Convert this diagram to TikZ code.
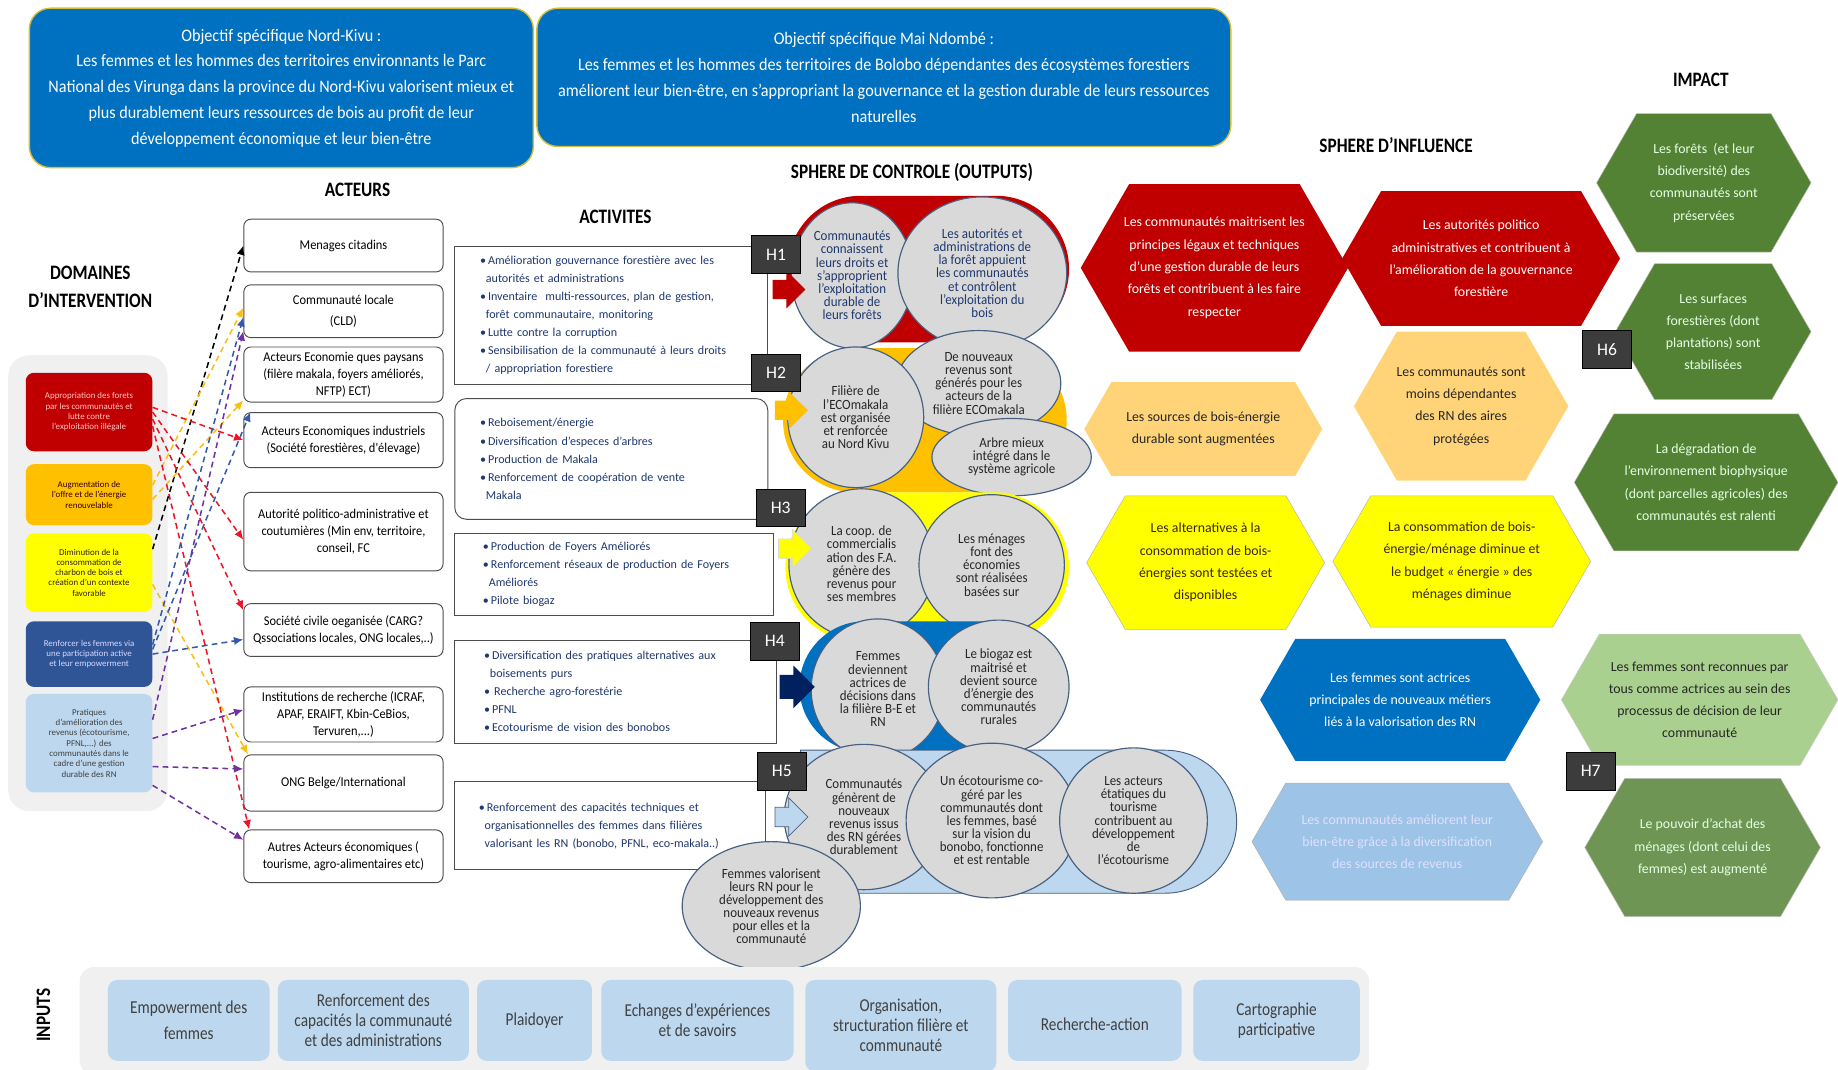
\documentclass[tikz,border=0pt]{standalone}
\usepackage{fontspec}
\setmainfont{Carlito}
\newfontfamily\narrowfont{Carlito}[FakeStretch=0.84]
\newfontfamily\semifont{Carlito}[FakeStretch=0.92]
\usepackage{xcolor}
\usepackage{tikz}
\usetikzlibrary{positioning}
\usetikzlibrary{shapes.geometric,shapes.misc,shapes.symbols,shapes.arrows}
\usetikzlibrary{arrows.meta}
\definecolor{objblue}{RGB}{0,112,192}
\definecolor{objborder}{RGB}{214,190,60}
\definecolor{domred}{RGB}{192,0,0}
\definecolor{domredtxt}{RGB}{255,196,196}
\definecolor{domorange}{RGB}{255,192,0}
\definecolor{domyellow}{RGB}{255,255,0}
\definecolor{domnavy}{RGB}{47,85,151}
\definecolor{domlight}{RGB}{189,215,238}
\definecolor{panelgray}{RGB}{240,240,240}
\definecolor{circgray}{RGB}{217,217,217}
\definecolor{slate}{RGB}{72,96,130}
\definecolor{txtblue}{RGB}{31,56,110}
\definecolor{hgray}{RGB}{60,60,60}
\definecolor{hexorange}{RGB}{255,212,120}
\definecolor{hexlight}{RGB}{157,195,230}
\definecolor{impgreen}{RGB}{84,130,53}
\definecolor{implight}{RGB}{169,208,142}
\definecolor{arrnavy}{RGB}{0,32,96}
\definecolor{linkgold}{RGB}{250,190,20}
\definecolor{linkred}{RGB}{235,20,40}
\definecolor{linkblue}{RGB}{50,90,170}
\definecolor{linkpurple}{RGB}{112,48,160}
\newcommand{\fsobj}{\semifont\fontsize{15}{22}\selectfont}
\newcommand{\fshead}{\narrowfont\bfseries\fontsize{17.5}{24}\selectfont}
\newcommand{\fsdom}{\fontsize{7.6}{8.8}\selectfont}
\newcommand{\fsact}{\semifont\fontsize{11.5}{14.5}\selectfont}
\newcommand{\fsacti}{\fontsize{10.3}{15.4}\selectfont}
\newcommand{\fscirc}{\semifont\fontsize{12}{11.2}\selectfont}
\newcommand{\fshex}{\fontsize{11.8}{19}\selectfont}
\newcommand{\fsinp}{\narrowfont\fontsize{15.5}{17}\selectfont}
\tikzstyle{objbox}=[draw=objborder, line width=1.2pt, fill=objblue, rounded corners=18pt, text=white, align=center, font=\fsobj]
\tikzstyle{header}=[align=center, font=\fshead]
\tikzstyle{dombox}=[rounded corners=7pt, minimum width=108pt, align=center, font=\fsdom, inner sep=1pt]
\tikzstyle{actor}=[draw=gray!60!black, line width=0.8pt, rounded corners=6pt, fill=white, minimum width=170pt, minimum height=45pt, align=center, font=\fsact, inner sep=1pt]
\tikzstyle{activity}=[draw=gray!60!black, line width=0.8pt, fill=white, text width=224pt, align=left, font=\fsacti, inner sep=0pt, text=txtblue]
\tikzstyle{hlabel}=[draw=black, fill=hgray, text=white, minimum width=42pt, minimum height=32pt, font=\fontsize{15}{15}\selectfont]
\tikzstyle{blob}=[rounded rectangle, inner sep=0pt]
\tikzstyle{push}=[single arrow, single arrow head extend=8pt, minimum height=28pt, inner xsep=0pt, inner ysep=8pt]
\tikzstyle{outcome}=[ellipse, draw=slate, line width=1pt, fill=circgray, inner sep=0pt, align=center, font=\fscirc, text=black!85]
\tikzstyle{hexa}=[signal, signal to=east and west, signal pointer angle=120, inner sep=0pt]
\tikzstyle{hextxt}=[align=center, font=\fshex, inner sep=0pt]
\tikzstyle{inbox}=[fill=domlight, rounded corners=8pt, minimum height=69pt, align=center, font=\fsinp, text=black!75]
\tikzstyle{link}=[-{Latex[length=8pt,width=7pt]}, dashed, dash pattern=on 5pt off 3.5pt, line width=1.3pt]

\begin{document}
\begin{tikzpicture}[x=1pt, y=-1pt]
\useasboundingbox (0,0) rectangle (1568,912);

% objectifs
\node[objbox, minimum width=430pt, minimum height=136pt] (nordkivu) at (240,75) {Objectif spécifique Nord-Kivu :\\Les femmes et les hommes des territoires environnants le Parc\\National des Virunga dans la province du Nord-Kivu valorisent mieux et\\plus durablement leurs ressources de bois au profit de leur\\développement économique et leur bien-être};
\node[objbox, minimum width=592pt, minimum height=118pt] (maindombe) at (754,66) {Objectif spécifique Mai Ndombé :\\Les femmes et les hommes des territoires de Bolobo dépendantes des écosystèmes forestiers\\améliorent leur bien-être, en s’appropriant la gouvernance et la gestion durable de leurs ressources\\naturelles};

% titres
\node[header] (domhead) at (77,245) {DOMAINES\\D’INTERVENTION};
\node[header] (acthead) at (305,162) {ACTEURS};
\node[header] (activhead) at (525,185) {ACTIVITES};
\node[header] (ctrlhead) at (778,147) {SPHERE DE CONTROLE (OUTPUTS)};
\node[header] (inflhead) at (1191,124) {SPHERE D’INFLUENCE};
\node[header] (imphead) at (1451,68) {IMPACT};
\node[header, rotate=90] (inphead) at (37,866) {INPUTS};

% domaines
\node[fill=panelgray, rounded corners=18pt, minimum width=136pt, minimum height=389pt] (dompanel) at (75,497.5) {};
\node[dombox, fill=domred, text=domredtxt, minimum height=67pt] (dom1) at (76,351.5) {Appropriation des forets\\par les communautés et\\lutte contre\\l’exploitation illégale};
\node[dombox, fill=domorange, text=black!80!red, minimum height=52pt] (dom2) at (76,422) {Augmentation de\\l’offre et de l’énergie\\renouvelable};
\node[dombox, fill=domyellow, text=black!75!brown, minimum height=67pt] (dom3) at (76,488.5) {Diminution de la\\consommation de\\charbon de bois et\\création d’un contexte\\favorable};
\node[dombox, fill=domnavy, text=white!85!blue, minimum height=56pt] (dom4) at (76,558) {Renforcer les femmes via\\une participation active\\et leur empowerment};
\node[dombox, fill=domlight, text=black!75, minimum height=84pt] (dom5) at (76,634) {Pratiques\\d’amélioration des\\revenus (écotourisme,\\PFNL,...) des\\communautés dans le\\cadre d’une gestion\\durable des RN};

% acteurs
\node[actor] (act1) at (293,209.5) {Menages citadins};
\node[actor] (act2) at (293,265.5) {Communauté locale\\[3pt](CLD)};
\node[actor, minimum height=47pt] (act3) at (293,319.5) {Acteurs Economie ques paysans\\(filère makala, foyers améliorés,\\NFTP) ECT)};
\node[actor, minimum height=47pt] (act4) at (293,375.5) {Acteurs Economiques industriels\\(Société forestières, d'élevage)};
\node[actor, minimum height=67pt] (act5) at (293,453.5) {Autorité politico-administrative et\\coutumières (Min env, territoire,\\conseil, FC};
\node[actor] (act6) at (293,537.5) {Société civile oeganisée (CARG?\\Qssociations locales, ONG locales,..)};
\node[actor, minimum height=47pt] (act7) at (293,609.5) {Institutions de recherche (ICRAF,\\APAF, ERAIFT, Kbin-CeBios,\\Tervuren,...)};
\node[actor, minimum height=48pt] (act8) at (293,668) {ONG Belge/International};
\node[actor] (act9) at (293,730.5) {Autres Acteurs économiques (\\tourisme, agro-alimentaires etc)};

% liens domaines -> acteurs
\draw[link, black] ([yshift=20]dom3.east) -- (act1.west);
\draw[link, linkgold] ([yshift=8]dom2.east) -- ([yshift=3]act2.west);
\draw[link, linkgold] ([yshift=-4]dom2.east) -- ([yshift=-22]act3.west);
\draw[link, linkgold] ([yshift=-10]dom3.east) -- ([xshift=4]act8.north west);
\draw[link, linkred] ([yshift=4]dom1.east) -- (act4.west);
\draw[link, linkred] ([yshift=0]dom1.east) -- ([yshift=-7]act5.west);
\draw[link, linkred] ([yshift=-6]dom1.east) -- ([yshift=17]act6.west);
\draw[link, linkred] ([yshift=-12]dom1.east) -- ([xshift=5]act9.north west);
\draw[link, linkblue] ([yshift=8]dom4.east) -- ([yshift=-5]act2.west);
\draw[link, linkblue] ([yshift=4]dom4.east) -- ([xshift=6]act4.north west);
\draw[link, linkblue] ([yshift=0]dom4.east) -- ([yshift=-8]act6.west);
\draw[link, linkpurple] ([yshift=20]dom5.east) -- ([yshift=-17]act2.west);
\draw[link, linkpurple] ([yshift=4]dom5.east) -- ([yshift=4]act7.west);
\draw[link, linkpurple] ([yshift=-20]dom5.east) -- ([yshift=12]act8.west);
\draw[link, linkpurple] ([yshift=-36]dom5.east) -- ([yshift=14]act9.west);

% activites
\node[activity, minimum width=267pt, minimum height=118pt] (activ1) at (521.5,269) {\textbullet\,Amélioration gouvernance forestière avec les\\\hspace*{5pt}autorités et administrations\\\textbullet\,Inventaire\ \ multi-ressources, plan de gestion,\\\hspace*{5pt}forêt communautaire, monitoring\\\textbullet\,Lutte contre la corruption\\\textbullet\,Sensibilisation de la communauté à leurs droits\\\hspace*{5pt}/ appropriation forestiere};
\node[activity, minimum width=267pt, minimum height=103pt, rounded corners=10pt] (activ2) at (521.5,391.5) {\textbullet\,Reboisement/énergie\\\textbullet\,Diversification d'especes d'arbres\\\textbullet\,Production de Makala\\\textbullet\,Renforcement de coopération de vente\\\hspace*{5pt}Makala};
\node[activity, minimum width=272pt, minimum height=70pt] (activ3) at (524,490) {\textbullet\,Production de Foyers Améliorés\\\textbullet\,Renforcement réseaux de production de Foyers\\\hspace*{5pt}Améliorés\\\textbullet\,Pilote biogaz};
\node[activity, minimum width=274pt, minimum height=88pt] (activ4) at (525,590) {\textbullet\,Diversification des pratiques alternatives aux\\\hspace*{5pt}boisements purs\\\textbullet\ Recherche agro-forestérie\\\textbullet\,PFNL\\\textbullet\,Ecotourisme de vision des bonobos};
\node[activity, minimum width=265pt, minimum height=75pt] (activ5) at (520.5,704.5) {\textbullet\,Renforcement des capacités techniques et\\\hspace*{5pt}organisationnelles des femmes dans filières\\\hspace*{5pt}valorisant les RN (bonobo, PFNL, eco-makala..)};

% sphere de controle
\node[blob, fill=domred, minimum width=240pt, minimum height=125pt] (blob1) at (792,229.5) {};
\node[outcome, text=txtblue, minimum width=104pt, minimum height=124pt] (out1) at (727,235) {Communautés\\connaissent\\leurs droits et\\s’approprient\\l’exploitation\\durable de\\leurs forêts};
\node[outcome, text=txtblue, minimum width=144pt, minimum height=130pt] (out2) at (838,233) {Les autorités et\\administrations de\\la forêt appuient\\les communautés\\et contrôlent\\l’exploitation du\\bois};
\node[push, fill=domred] (push1) at (669,247) {};

\node[blob, fill=domorange, minimum width=242pt, minimum height=123pt] (blob2) at (789,358.5) {};
\node[outcome, minimum width=140pt, minimum height=90pt] (out4) at (835,327) {De nouveaux\\revenus sont\\générés pour les\\acteurs de la\\filière ECOmakala};
\node[outcome, minimum width=116pt, minimum height=120pt] (out3) at (730,356) {Filière de\\l’ECOmakala\\est organisée\\et renforcée\\au Nord Kivu};
\node[outcome, minimum width=136pt, minimum height=66pt] (out5) at (863,390) {Arbre mieux\\intégré dans le\\système agricole};
\node[push, fill=domorange] (push2) at (671,350) {};

\node[blob, fill=domyellow, minimum width=242pt, minimum height=128pt] (blob3) at (791,484) {};
\node[outcome, minimum width=124pt, minimum height=128pt] (out6) at (735,481) {La coop. de\\commercialis\\ation des F.A.\\génère des\\revenus pour\\ses membres};
\node[outcome, minimum width=124pt, minimum height=120pt] (out7) at (846,482) {Les ménages\\font des\\économies\\sont réalisées\\basées sur};
\node[push, fill=domyellow, draw=white!70!gray, line width=0.5pt] (push3) at (674,468) {};

\node[blob, fill=objblue, minimum width=223pt, minimum height=112pt] (blob4) at (793.5,586) {};
\node[outcome, minimum width=114pt, minimum height=120pt] (out8) at (749,588) {Femmes\\deviennent\\actrices de\\décisions dans\\la filière B-E et\\RN};
\node[outcome, minimum width=120pt, minimum height=114pt] (out9) at (852,586) {Le biogaz est\\maitrisé et\\devient source\\d’énergie des\\communautés\\rurales};
\node[push, fill=arrnavy, inner ysep=10pt, minimum height=30pt] (push4) at (675,586) {};

\node[blob, fill=domlight, draw=slate, line width=0.8pt, minimum width=372pt, minimum height=122pt, rounded rectangle west arc=none] (blob5) at (869,701) {};
\node[outcome, minimum width=136pt, minimum height=124pt] (out10) at (737,697) {Communautés\\génèrent de\\nouveaux\\revenus issus\\des RN gérées\\durablement};
\node[outcome, minimum width=146pt, minimum height=132pt] (out11) at (846,700) {Un écotourisme co-\\géré par les\\communautés dont\\les femmes, basé\\sur la vision du\\bonobo, fonctionne\\et est rentable};
\node[outcome, minimum width=126pt, minimum height=124pt] (out12) at (967,700) {Les acteurs\\étatiques du\\tourisme\\contribuent au\\développement\\de\\l’écotourisme};
\node[push, fill=domlight, draw=slate, line width=0.6pt] (push5) at (671,697) {};
\node[outcome, minimum width=152pt, minimum height=110pt] (out13) at (658,773) {Femmes valorisent\\leurs RN pour le\\développement des\\nouveaux revenus\\pour elles et la\\communauté};

% hypotheses
\node[hlabel] (h1) at (662,217) {H1};
\node[hlabel] (h2) at (662,318) {H2};
\node[hlabel] (h3) at (666,433) {H3};
\node[hlabel] (h4) at (661,547) {H4};
\node[hlabel] (h5) at (667,658) {H5};

% sphere d'influence
\node[hexa, fill=domred, minimum width=228pt, minimum height=143pt, label={[hextxt, text=white]center:{Les communautés maitrisent les\\principes légaux et techniques\\d’une gestion durable de leurs\\forêts et contribuent à les faire\\respecter}}] (infl1) at (1036,228.5) {};
\node[hexa, fill=domred, minimum width=237pt, minimum height=115pt, label={[hextxt, text=white]center:{Les autorités politico\\administratives et contribuent à\\l’amélioration de la gouvernance\\forestière}}] (infl2) at (1263.5,220.5) {};
\node[hexa, fill=hexorange, minimum width=203pt, minimum height=80pt, label={[hextxt, text=black!85]center:{Les sources de bois-énergie\\durable sont augmentées}}] (infl3) at (1026.5,366) {};
\node[hexa, fill=hexorange, minimum width=183pt, minimum height=127pt, label={[hextxt, text=black!85]center:{Les communautés sont\\moins dépendantes\\des RN des aires\\protégées}}] (infl4) at (1246.5,346.5) {};
\node[hexa, fill=domyellow, draw=gray!60, minimum width=203pt, minimum height=114pt, label={[hextxt, text=black!70!brown]center:{Les alternatives à la\\consommation de bois-\\énergies sont testées et\\disponibles}}] (infl5) at (1028.5,480) {};
\node[hexa, fill=domyellow, draw=gray!60, minimum width=220pt, minimum height=112pt, label={[hextxt, text=black!70!brown]center:{La consommation de bois-\\énergie/ménage diminue et\\le budget « énergie » des\\ménages diminue}}] (infl6) at (1247,479) {};
\node[hexa, fill=objblue, minimum width=239pt, minimum height=104pt, label={[hextxt, text=white]center:{Les femmes sont actrices\\principales de nouveaux métiers\\liés à la valorisation des RN}}] (infl7) at (1194.5,597) {};
\node[hexa, fill=hexlight, draw=gray!60, minimum width=248pt, minimum height=100pt, label={[hextxt, text=white!88!blue]center:{Les communautés améliorent leur\\bien-être grâce à la diversification\\des sources de revenus}}] (infl8) at (1192,718) {};

% impact
\node[hexa, fill=impgreen, draw=gray!50, minimum width=183pt, minimum height=118pt, label={[hextxt, text=white!90!green]center:{Les forêts\ \ (et leur\\biodiversité) des\\communautés sont\\préservées}}] (imp1) at (1453.5,156) {};
\node[hexa, fill=impgreen, draw=gray!50, minimum width=167pt, minimum height=116pt, label={[hextxt, text=white!90!green]center:{Les surfaces\\forestières (dont\\plantations) sont\\stabilisées}}] (imp2) at (1461.5,283) {};
\node[hexa, fill=impgreen, draw=gray!50, minimum width=225pt, minimum height=117pt, label={[hextxt, text=white!90!green]center:{La dégradation de\\l’environnement biophysique\\(dont parcelles agricoles) des\\communautés est ralenti}}] (imp3) at (1455.5,411.5) {};
\node[hexa, fill=implight, draw=gray!40, minimum width=236pt, minimum height=112pt, label={[hextxt, text=black!85]center:{Les femmes sont reconnues par\\tous comme actrices au sein des\\processus de décision de leur\\communauté}}] (imp4) at (1450,597) {};
\node[hexa, fill=impgreen!85!white, draw=gray!50, minimum width=201pt, minimum height=118pt, label={[hextxt, text=white!90!green]center:{Le pouvoir d’achat des\\ménages (dont celui des\\femmes) est augmenté}}] (imp5) at (1452.5,723) {};
\node[hlabel] (h6) at (1371,298) {H6};
\node[hlabel] (h7) at (1357,658) {H7};

% inputs
\node[fill=panelgray, rounded corners=12pt, minimum width=1100pt, minimum height=92pt] (inpanel) at (618,871) {};
\node[inbox, minimum width=138pt] (inp1) at (161,870.5) {Empowerment des\\[5pt]femmes};
\node[inbox, minimum width=163pt] (inp2) at (318.5,870.5) {Renforcement des\\capacités la communauté\\et des administrations};
\node[inbox, minimum width=98pt] (inp3) at (456,870.5) {Plaidoyer};
\node[inbox, minimum width=164pt] (inp4) at (595,870.5) {Echanges d’expériences\\et de savoirs};
\node[inbox, minimum width=163pt, minimum height=78pt] (inp5) at (768.5,875) {Organisation,\\structuration filière et\\communauté};
\node[inbox, minimum width=148pt] (inp6) at (934,870.5) {\raisebox{-17pt}{Recherche-action}};
\node[inbox, minimum width=142pt] (inp7) at (1089,870.5) {Cartographie\\participative};
\end{tikzpicture}
\end{document}
